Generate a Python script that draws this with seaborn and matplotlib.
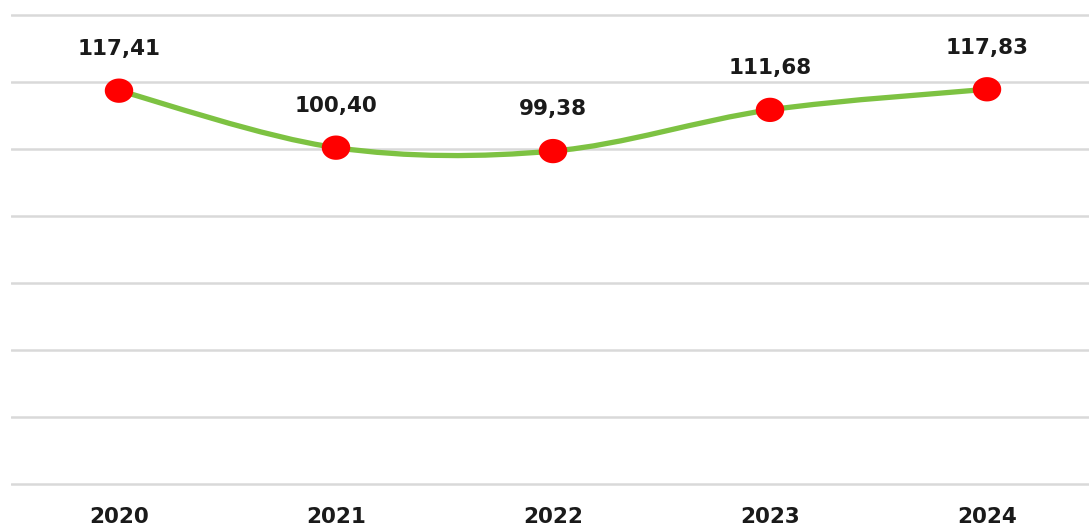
import numpy as np
import pandas as pd
import matplotlib
matplotlib.use("Agg")
import matplotlib.pyplot as plt
from matplotlib.path import Path
from matplotlib.patches import PathPatch
import seaborn as sns

years = ["2020", "2021", "2022", "2023", "2024"]
values = [117.41, 100.40, 99.38, 111.68, 117.83]
labels = ["117,41", "100,40", "99,38", "111,68", "117,83"]

sns.set_theme(style="white")
plt.rcParams['font.family'] = ['DejaVu Sans']

W, H = 1089, 527
fig = plt.figure(figsize=(W / 100, H / 100), dpi=100)
ax = fig.add_axes([10.5 / W, 39.65 / H, 1085 / W, 485.75 / H])

df = pd.DataFrame({"x": np.arange(len(years)), "y": values})

# smooth curve through the points (Catmull-Rom as cubic Bezier)
pts = df[["x", "y"]].to_numpy(dtype=float)
ext = np.vstack([pts[0], pts, pts[-1]])
verts = [tuple(pts[0])]
codes = [Path.MOVETO]
for i in range(len(pts) - 1):
    p0, p1, p2, p3 = ext[i], ext[i + 1], ext[i + 2], ext[i + 3]
    c1 = p1 + (p2 - p0) / 6.0
    c2 = p2 - (p3 - p1) / 6.0
    verts += [tuple(c1), tuple(c2), tuple(p2)]
    codes += [Path.CURVE4] * 3
ax.add_patch(PathPatch(Path(verts, codes), facecolor="none", edgecolor="#7dc242",
                       lw=3.8, capstyle="round", zorder=3))

# ellipse marker
t = np.linspace(0, 2 * np.pi, 60)
ell = Path(np.column_stack([1.17 * np.cos(t), np.sin(t)]), closed=True)
sns.scatterplot(data=df, x="x", y="y", marker=ell, s=420, color="#ff0000",
                edgecolor="none", linewidth=0, ax=ax, zorder=4, legend=False)

for xi, yi, lab in zip(df["x"], df["y"], labels):
    ax.annotate(lab, (xi, yi), xytext=(0, 30), textcoords="offset points",
                ha="center", va="center", fontsize=15.5, fontweight="bold",
                color="#1a1a1a", zorder=5)

ax.set_xlim(-0.5, len(years) - 0.5)
ax.set_ylim(-1, 144)
ax.set_yticks(np.arange(0, 141, 20))
ax.set_yticklabels([])
ax.set_xticks(df["x"])
ax.set_xticklabels(years, fontsize=15.5, fontweight="bold", color="#1a1a1a")
ax.tick_params(axis="x", length=0, pad=14)
ax.tick_params(axis="y", length=0)
ax.grid(axis="y", color="#d9d9d9", lw=1.8)
ax.set_axisbelow(True)
for s in ax.spines.values():
    s.set_visible(False)
ax.set_xlabel("")
ax.set_ylabel("")

fig.savefig("out.png", dpi=100, facecolor="white")
